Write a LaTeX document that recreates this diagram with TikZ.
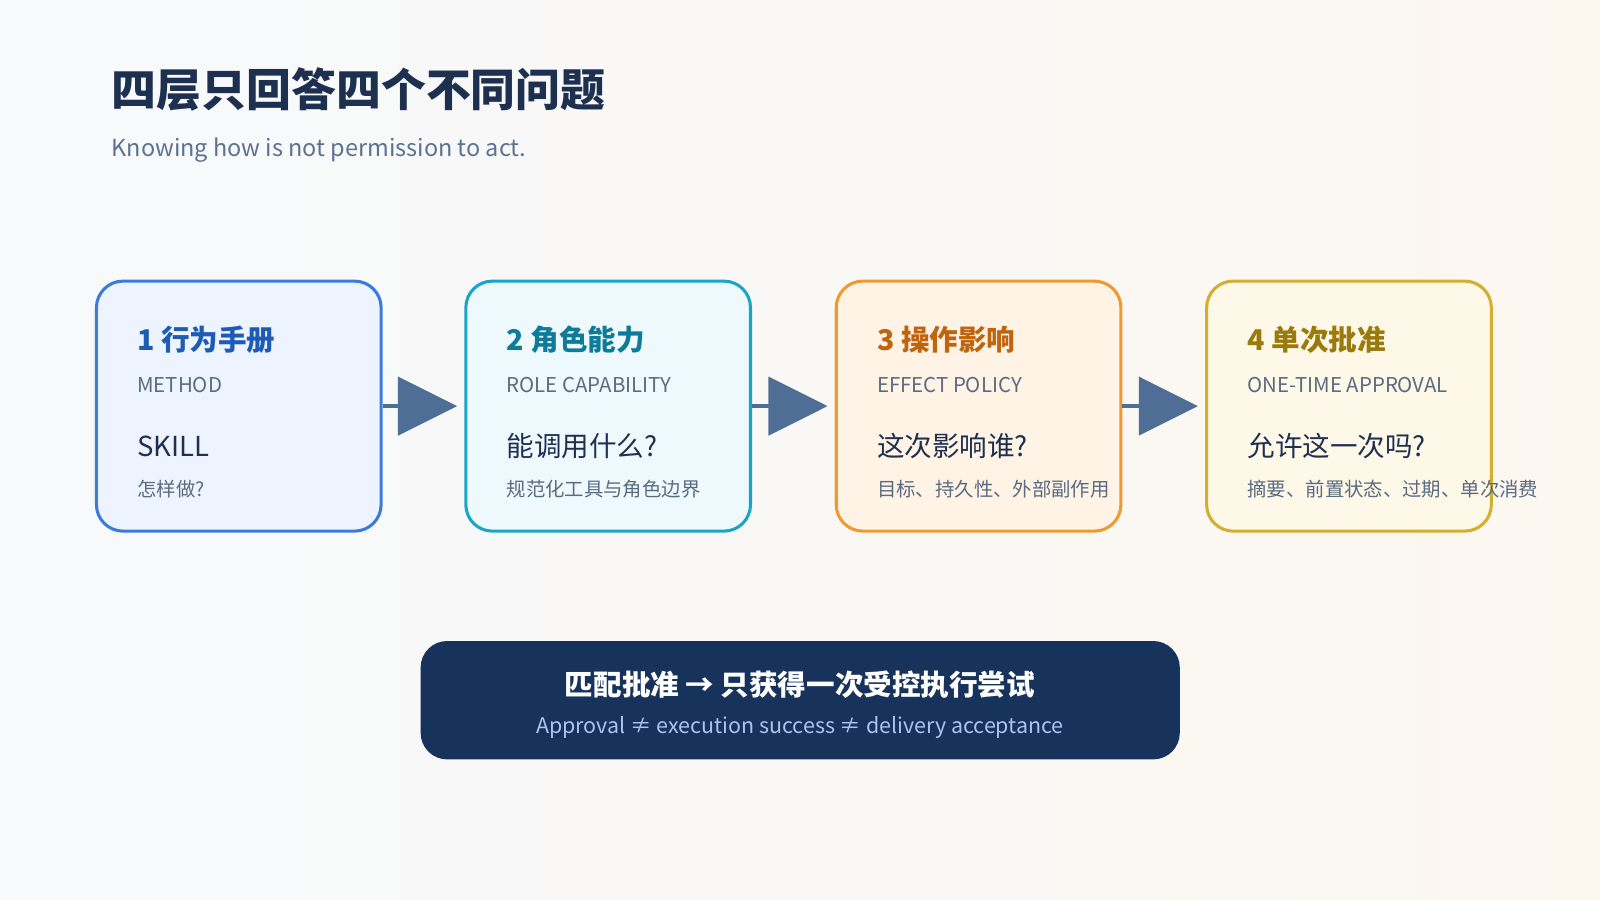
\documentclass[tikz,border=0pt]{standalone}
\usepackage{fontspec}
\setmainfont{Noto Sans CJK SC}
\usetikzlibrary{arrows.meta}
\definecolor{dark}{HTML}{1E3050}
\definecolor{subg}{HTML}{5A6B80}
\definecolor{bA}{HTML}{3C7BDB}\definecolor{fA}{HTML}{EEF4FF}\definecolor{tA}{HTML}{1D5BB5}
\definecolor{bB}{HTML}{1AA5C8}\definecolor{fB}{HTML}{EEF9FD}\definecolor{tB}{HTML}{0E7C99}
\definecolor{bC}{HTML}{EE9A30}\definecolor{fC}{HTML}{FFF3E6}\definecolor{tC}{HTML}{C0650F}
\definecolor{bD}{HTML}{D4AE2C}\definecolor{fD}{HTML}{FEF8E8}\definecolor{tD}{HTML}{9A7A0A}
\definecolor{arr}{HTML}{4F6E96}
\definecolor{navy}{HTML}{17335C}
\begin{document}
\begin{tikzpicture}[x=1pt,y=-1pt,
  card/.style={draw,line width=3pt,rounded corners=26pt,minimum width=279pt,minimum height=245pt,anchor=north west},
  t1/.style={anchor=west,font=\fontsize{28}{32}\selectfont\bfseries},
  t2/.style={anchor=west,font=\fontsize{20}{24}\selectfont,text=subg},
  t3/.style={anchor=west,font=\fontsize{27}{32}\selectfont,text=dark},
  t4/.style={anchor=west,font=\fontsize{19}{22}\selectfont,text=subg},
  link/.style={draw=arr,line width=4pt,shorten >=7pt,-{Triangle[length=58pt,width=57pt]}}]
\shade[left color={rgb,255:red,247;green,249;blue,252},right color={rgb,255:red,252;green,247;blue,239}] (0,0) rectangle (1568,882);
\useasboundingbox (0,0) rectangle (1568,882);
\node[anchor=west,text=dark,font=\fontsize{44}{50}\selectfont\bfseries] (title) at (106,88) {四层只回答四个不同问题};
\node[anchor=west,text={rgb,255:red,92;green,114;blue,144},font=\fontsize{23}{28}\selectfont] (sub) at (106,147) {Knowing how is not permission to act.};
\foreach \n/\x/\c/\t/\e/\q/\s in {
 A/93/A/1 行为手册/METHOD / SKILL/怎样做?/流程、检查表、经验,
 B/455/B/2 角色能力/ROLE CAPABILITY/能调用什么?/规范化工具与角色边界,
 C/818/C/3 操作影响/EFFECT POLICY/这次影响谁?/目标、持久性、外部副作用,
 D/1181/D/4 单次批准/ONE-TIME APPROVAL/允许这一次吗?/摘要、前置状态、过期、单次消费}{
 \node[card,draw=b\c,fill=f\c] (box\n) at (\x,274) {};
 \node[t1,text=t\c] (h\n) at (\x+38,333) {\t};
 \node[t2] (e\n) at (\x+38,377) {\e};
 \node[t3] (q\n) at (\x+38,437) {\q};
 \node[t4] (s\n) at (\x+38,479) {\s};
}
\draw[link] (boxA.east) -- (boxB.west);
\draw[link] (boxB.east) -- (boxC.west);
\draw[link] (boxC.east) -- (boxD.west);
\node[fill=navy,rounded corners=26pt,minimum width=744pt,minimum height=116pt,anchor=north west] (bottom) at (412,628) {};
\node[text=white,font=\fontsize{28}{32}\selectfont\bfseries] (b1) at (784,671) {匹配批准 → 只获得一次受控执行尝试};
\node[text={rgb,255:red,169;green,196;blue,238},font=\fontsize{21}{25}\selectfont] (b2) at (784,713) {Approval ≠ execution success ≠ delivery acceptance};
\end{tikzpicture}
\end{document}
